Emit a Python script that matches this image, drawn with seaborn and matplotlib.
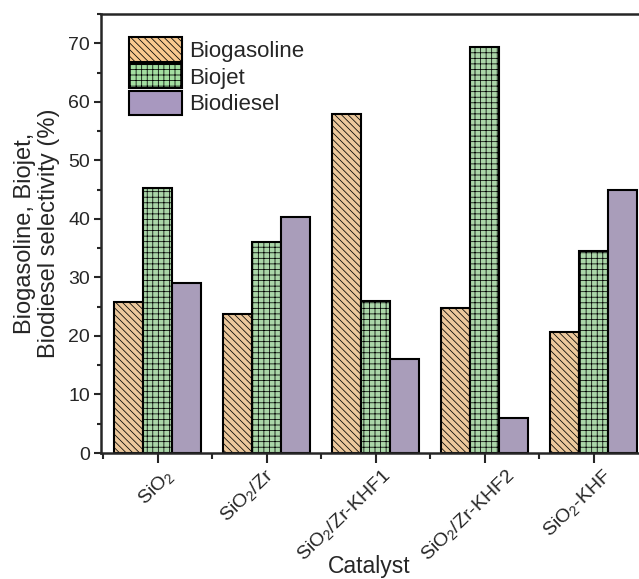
import numpy as np
import pandas as pd
import matplotlib
matplotlib.use("Agg")
import matplotlib.pyplot as plt
import matplotlib.transforms as mtransforms
from matplotlib.ticker import FixedLocator, MultipleLocator
from matplotlib.patches import Patch
import seaborn as sns

catalysts = ["SiO$_2$", "SiO$_2$/Zr", "SiO$_2$/Zr-KHF1", "SiO$_2$/Zr-KHF2", "SiO$_2$-KHF"]
products = ["Biogasoline", "Biojet", "Biodiesel"]
biogasoline = [25.8, 23.7, 58.0, 24.7, 20.6]
biojet = [45.3, 36.0, 26.0, 69.3, 34.5]
biodiesel = [29.0, 40.3, 16.0, 6.0, 45.0]

colors = ["#F9C98F", "#A3DEA0", "#A898BF"]
hatches = ["\\\\\\\\\\", "+++", ""]
# per-label horizontal shift (px) of the rotated tick labels
label_dx = [13, 4, 12, 27, 15]

sns.set_style("ticks")
plt.rcParams["font.family"] = ["Liberation Sans", "DejaVu Sans"]
plt.rcParams["mathtext.fontset"] = "custom"
plt.rcParams["mathtext.rm"] = "Liberation Sans"
plt.rcParams["mathtext.it"] = "Liberation Sans"
plt.rcParams["hatch.linewidth"] = 0.55

df = pd.DataFrame({
    "Catalyst": np.repeat(catalysts, 3),
    "Product": products * len(catalysts),
    "Selectivity": np.ravel(np.column_stack([biogasoline, biojet, biodiesel])),
})

fig = plt.figure(figsize=(6.39, 5.79), dpi=100)
ax = fig.add_axes([101 / 639, 126 / 579, 547 / 639, 439 / 579])

sns.barplot(data=df, x="Catalyst", y="Selectivity", hue="Product",
            hue_order=products, order=catalysts, palette=colors,
            edgecolor="black", linewidth=1.5, width=0.8, gap=0,
            errorbar=None, legend=False, ax=ax)

for cont, h in zip(ax.containers, hatches):
    for p in cont:
        p.set_hatch(h)
        p.set_edgecolor("black")

ax.set_xlim(-0.52, 4.5)
ax.set_ylim(0, 75)
ax.yaxis.set_major_locator(MultipleLocator(10))
ax.yaxis.set_minor_locator(MultipleLocator(5))
ax.xaxis.set_minor_locator(FixedLocator(np.arange(-0.5, 5.0, 1.0)))

for s in ["left", "bottom", "top"]:
    ax.spines[s].set_linewidth(1.8)
ax.spines["right"].set_visible(False)

ax.tick_params(axis="x", which="major", direction="out", width=1.5, length=7,
               labelsize=14, pad=3)
ax.tick_params(axis="x", which="minor", direction="out", width=1.5, length=4)
ax.tick_params(axis="y", which="major", direction="out", width=1.5, length=5,
               labelsize=14, pad=3)
ax.tick_params(axis="y", which="minor", direction="out", width=1.5, length=3)

for lbl, dx in zip(ax.get_xticklabels(), label_dx):
    offset = mtransforms.ScaledTranslation(dx / 100, -6 / 100, fig.dpi_scale_trans)
    lbl.set_rotation(44)
    lbl.set_ha("right")
    lbl.set_va("center")
    lbl.set_rotation_mode("anchor")
    lbl.set_transform(lbl.get_transform() + offset)

ax.set_xlabel("Catalyst", fontsize=16.5, labelpad=0)
ax.xaxis.set_label_coords((369 - 101) / 547, -0.232)
ax.set_ylabel("Biogasoline, Biojet,\nBiodiesel selectivity (%)", fontsize=17,
              labelpad=6, linespacing=1.1)

handles = [Patch(facecolor=c, edgecolor="black", hatch=h, linewidth=1.5)
           for c, h in zip(colors, hatches)]
ax.legend(handles, products, loc="upper left", bbox_to_anchor=(0.035, 0.967),
          frameon=False, fontsize=16, handlelength=2.4, handleheight=1.3,
          labelspacing=0.1, handletextpad=0.3, borderaxespad=0.2,
          borderpad=0.2)

fig.savefig("out.png", dpi=100)
